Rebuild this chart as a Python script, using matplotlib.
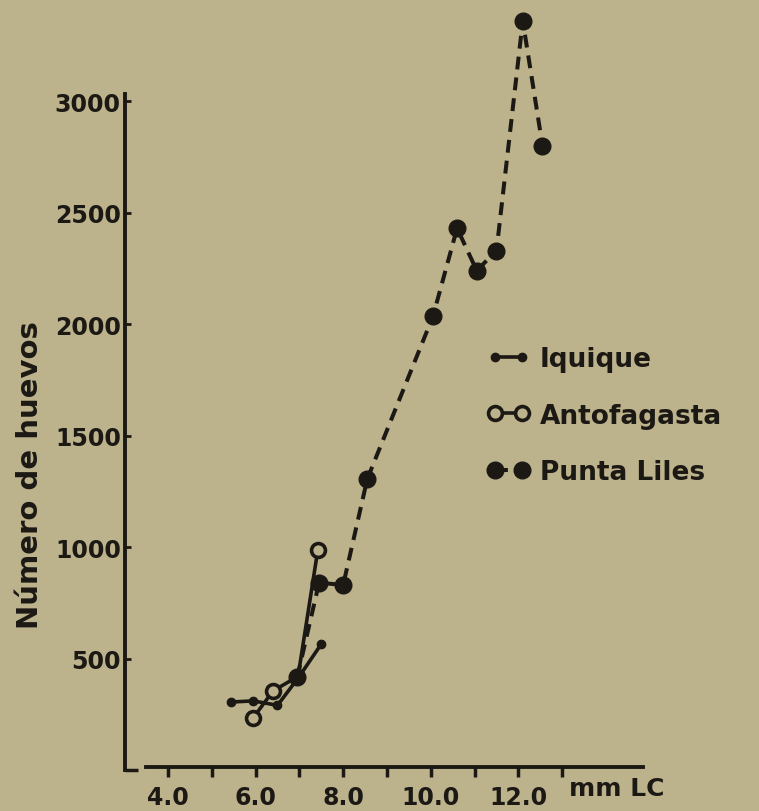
import matplotlib
matplotlib.use("Agg")
import matplotlib.pyplot as plt

# ---- data ----
iquique_x = [5.45, 5.95, 6.5, 7.0, 7.5]
iquique_y = [305, 310, 290, 420, 565]

antofagasta_x = [5.95, 6.4, 6.97, 7.42]
antofagasta_y = [235, 355, 420, 985]

punta_x = [6.95, 7.45, 8.0, 8.55, 10.05, 10.6, 11.05, 11.5, 12.1, 12.55]
punta_y = [415, 840, 830, 1305, 2035, 2430, 2240, 2330, 3360, 2800]

xticks = [4, 5, 6, 7, 8, 9, 10, 11, 12, 13]
xticklabels = ["4.0", "", "6.0", "", "8.0", "", "10.0", "", "12.0", ""]
yticks = [500, 1000, 1500, 2000, 2500, 3000]
yticklabels = ["500", "1000", "1500", "2000", "2500", "3000"]

BG = "#bcb38c"
INK = "#1c1915"

plt.rcParams['font.family'] = ['DejaVu Sans']
fig = plt.figure(figsize=(7.59, 8.12), dpi=100, facecolor=BG)
ax = fig.add_axes([125/759, (812-771)/812, 520/759, 758/812])
ax.set_facecolor(BG)
ax.set_xlim(3.02, 14.89)
ax.set_ylim(0, 3400)

l_p, = ax.plot(punta_x, punta_y, color=INK, lw=2.9, ls=(0, (3.2, 2.0)),
               marker='o', ms=12, mfc=INK, mec=INK, zorder=4)
l_a, = ax.plot(antofagasta_x, antofagasta_y, color=INK, lw=2.6, ls='-',
               marker='o', ms=10, mfc=BG, mec=INK, mew=2.6,
               markevery=[0, 1, 3], zorder=3)
l_i, = ax.plot(iquique_x, iquique_y, color=INK, lw=2.6, ls='-',
               marker='o', ms=6, mfc=INK, mec=INK, zorder=5)

for s in ['top', 'right']:
    ax.spines[s].set_visible(False)
ax.spines['left'].set_bounds(0, 3030)
ax.spines['left'].set_linewidth(2.8)
ax.spines['left'].set_color(INK)
ax.spines['bottom'].set_bounds(3.5, 14.85)
ax.spines['bottom'].set_linewidth(2.8)
ax.spines['bottom'].set_color(INK)
ax.spines['bottom'].set_position(('data', 12))

ax.set_xticks(xticks)
ax.set_xticklabels(xticklabels)
ax.set_yticks(yticks)
ax.set_yticklabels(yticklabels)
ax.set_yticks([0], minor=True)
ax.tick_params(axis='x', direction='out', length=7, width=2.5, color=INK,
               pad=6, labelsize=17, labelcolor=INK)
ax.tick_params(axis='y', direction='in', length=4, width=2, color=INK,
               pad=3, labelsize=17, labelcolor=INK)
ax.tick_params(axis='y', which='minor', direction='in', length=9, width=2.5,
               color=INK)
for t in ax.get_xticklabels():
    t.set_fontweight('bold')
for t in ax.get_yticklabels():
    t.set_fontweight('bold')

ax.text(14.25, -25, "mm LC", ha='center', va='top', fontsize=18,
        fontweight='bold', color=INK,
        transform=ax.transData, clip_on=False)

fig.text(30/759, 1 - 475/812, "Número de huevos", rotation=90, ha='center',
         va='center', fontsize=21, fontweight='bold', color=INK)

leg = fig.legend([l_i, l_a, l_p], ["Iquique", "Antofagasta", "Punta Liles"],
                 loc='upper left', bbox_to_anchor=(474/759, 1 - 334/812),
                 bbox_transform=fig.transFigure, frameon=False, numpoints=2,
                 handlelength=1.6, handletextpad=0.4, labelspacing=1.15,
                 borderpad=0, prop={'weight': 'bold', 'size': 19})
for t in leg.get_texts():
    t.set_color(INK)

fig.savefig("out.png", dpi=100, facecolor=BG)
